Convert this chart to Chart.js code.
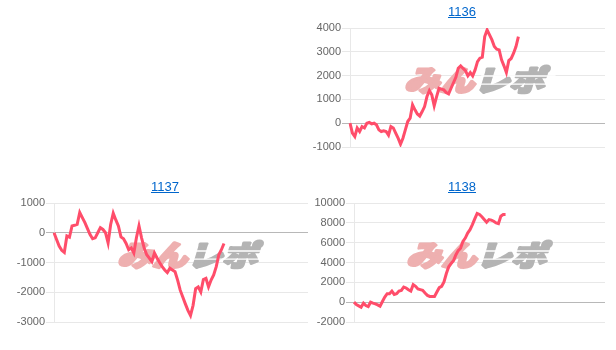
<!DOCTYPE html>
<html>
<head>
<meta charset="utf-8">
<script src="https://cdn.jsdelivr.net/npm/chart.js@4"></script>
<style>
body { margin: 0; background: #fff; width: 616px; height: 350px; position: relative; overflow: hidden; font-family: Arial, "Liberation Sans", sans-serif; }
.cell { position: absolute; height: 175px; background: #fff; }
.cell a { position: absolute; left: 0; right: 0; top: 4px; text-align: center; font-size: 13px; line-height: 16px; color: #0066cc; text-decoration: underline; }
.cell canvas { position: absolute; left: 0; top: 0; }
</style>
</head>
<body>

<div class="cell" style="left:0;top:175px;width:330px">
  <canvas id="chart1137" width="330" height="175"></canvas>
  <a href="#">1137</a>
</div>
<div class="cell" style="left:308px;top:0;width:308px">
  <canvas id="chart1136" width="308" height="175"></canvas>
  <a href="#">1136</a>
</div>
<div class="cell" style="left:308px;top:175px;width:308px">
  <canvas id="chart1138" width="308" height="175"></canvas>
  <a href="#">1138</a>
</div>

<script>
// x axis: game slots (not labelled on the chart)
const gameCount = 107;
const gameLabels = Array.from({ length: gameCount }, (_, i) => String(i + 1));

// differential per game
const values1136 = [0, -420, -560, -200, -350, -140, -200, 0, 30, -30,
  0, -70, -280, -350, -320, -350, -500, -140, -200, -420,
  -630, -880, -630, -280, 70, 210, 770, 560, 390, 300,
  490, 700, 1120, 1370, 1190, 730, 1120, 1470, 1430, 1400,
  1290, 1230, 1470, 1700, 1930, 2310, 2410, 2300, 2210, 1990,
  2130, 1990, 2240, 2590, 2730, 2770, 3640, 3920, 3710, 3500,
  3220, 3110, 3080, 2660, 2410, 2130, 2630, 2720, 2940, 3220, 3640];

const values1137 = [0, -230, -450, -590, -660, -110, -150, 230, 250, 280,
  680, 510, 340, 140, -60, -200, -170, 0, 170, 110,
  0, -340, 280, 660, 430, 230, -140, -200, -360, -570,
  -510, -680, -170, 230, -170, -510, -740, -850, -970, -680,
  -850, -1000, -1140, -1250, -1340, -1190, -1250, -1310, -1590, -1930,
  -2160, -2390, -2610, -2780, -2440, -1880, -1820, -1990, -1570, -1530,
  -1820, -1590, -1420, -1140, -740, -570, -360];

const values1138 = [0, -240, -370, -510, -100, -340, -440, 0, -100, -170,
  -270, -410, 70, 510, 850, 850, 1120, 780, 850, 1120,
  1190, 1530, 1430, 1260, 1120, 1770, 1600, 1330, 1260, 1190,
  920, 680, 580, 580, 580, 1020, 1460, 1600, 2040, 2890,
  3570, 3910, 4180, 4760, 5200, 5440, 6120, 6460, 6970, 7310,
  7820, 8400, 8950, 8840, 8610, 8330, 8060, 8330, 8270, 8160,
  7990, 7920, 8670, 8840, 8840];

// y axis ranges [min, max, step]
const range1136 = [-1000, 4000, 1000];
const range1137 = [-3000, 1000, 1000];
const range1138 = [-2000, 10000, 2000];

// watermark drawn behind the line
const logoPlugin = {
  id: 'logo',
  beforeDatasetsDraw(chart) {
    const ctx = chart.ctx;
    const a = chart.chartArea;
    const cx = (a.left + a.right) / 2;
    const cy = (a.top + a.bottom) / 2 - 7;
    ctx.save();
    ctx.font = '900 32px "Noto Sans CJK JP", sans-serif';
    ctx.textBaseline = 'middle';
    const w1 = ctx.measureText('みん').width;
    const w2 = ctx.measureText('レポ').width;
    const total = w1 + w2;
    ctx.translate(cx, cy);
    ctx.transform(1, 0, -0.3, 1, 0, 0);
    ctx.scale(140 / total, 0.9);
    ctx.lineJoin = 'round';
    ctx.lineWidth = 3;
    ctx.fillStyle = ctx.strokeStyle = 'rgb(238,176,176)';
    ctx.fillText('みん', -total / 2, 0);
    ctx.strokeText('みん', -total / 2, 0);
    ctx.fillStyle = ctx.strokeStyle = 'rgb(180,180,180)';
    ctx.fillText('レポ', -total / 2 + w1, 0);
    ctx.strokeText('レポ', -total / 2 + w1, 0);
    // speed stripes through the grey part
    ctx.strokeStyle = '#fff';
    ctx.lineWidth = 1.5;
    [-5, 4].forEach(y => {
      ctx.beginPath();
      ctx.moveTo(-total / 2 + w1 + 2, y);
      ctx.lineTo(total / 2 + 6, y);
      ctx.stroke();
    });
    ctx.restore();
  }
};

function makeChart(id, values, range, axisWidth, padRight) {
  new Chart(document.getElementById(id), {
    type: 'line',
    data: {
      labels: gameLabels,
      datasets: [{
        data: values,
        borderColor: 'rgb(255,77,106)',
        borderWidth: 3,
        pointRadius: 0,
        tension: 0,
        fill: false
      }]
    },
    options: {
      responsive: false,
      animation: false,
      layout: { padding: { top: 28, bottom: 28, left: 0, right: padRight } },
      plugins: { legend: { display: false }, tooltip: { enabled: false } },
      scales: {
        x: { display: false },
        y: {
          min: range[0],
          max: range[1],
          ticks: {
            stepSize: range[2], color: '#666', padding: 1,
            font: { size: 11, family: 'Arial' },
            callback: v => String(v)
          },
          grid: {
            color: c => (c.tick && c.tick.value === 0) ? 'rgba(0,0,0,0.28)' : 'rgba(0,0,0,0.09)',
            tickLength: 8
          },
          border: { color: 'rgba(0,0,0,0.09)' },
          afterFit: s => { s.width = axisWidth; }
        }
      }
    },
    plugins: [logoPlugin]
  });
}

makeChart('chart1137', values1137, range1137, 54, 3);
makeChart('chart1136', values1136, range1136, 42, 11);
makeChart('chart1138', values1138, range1138, 46, 11);
</script>
</body>
</html>
